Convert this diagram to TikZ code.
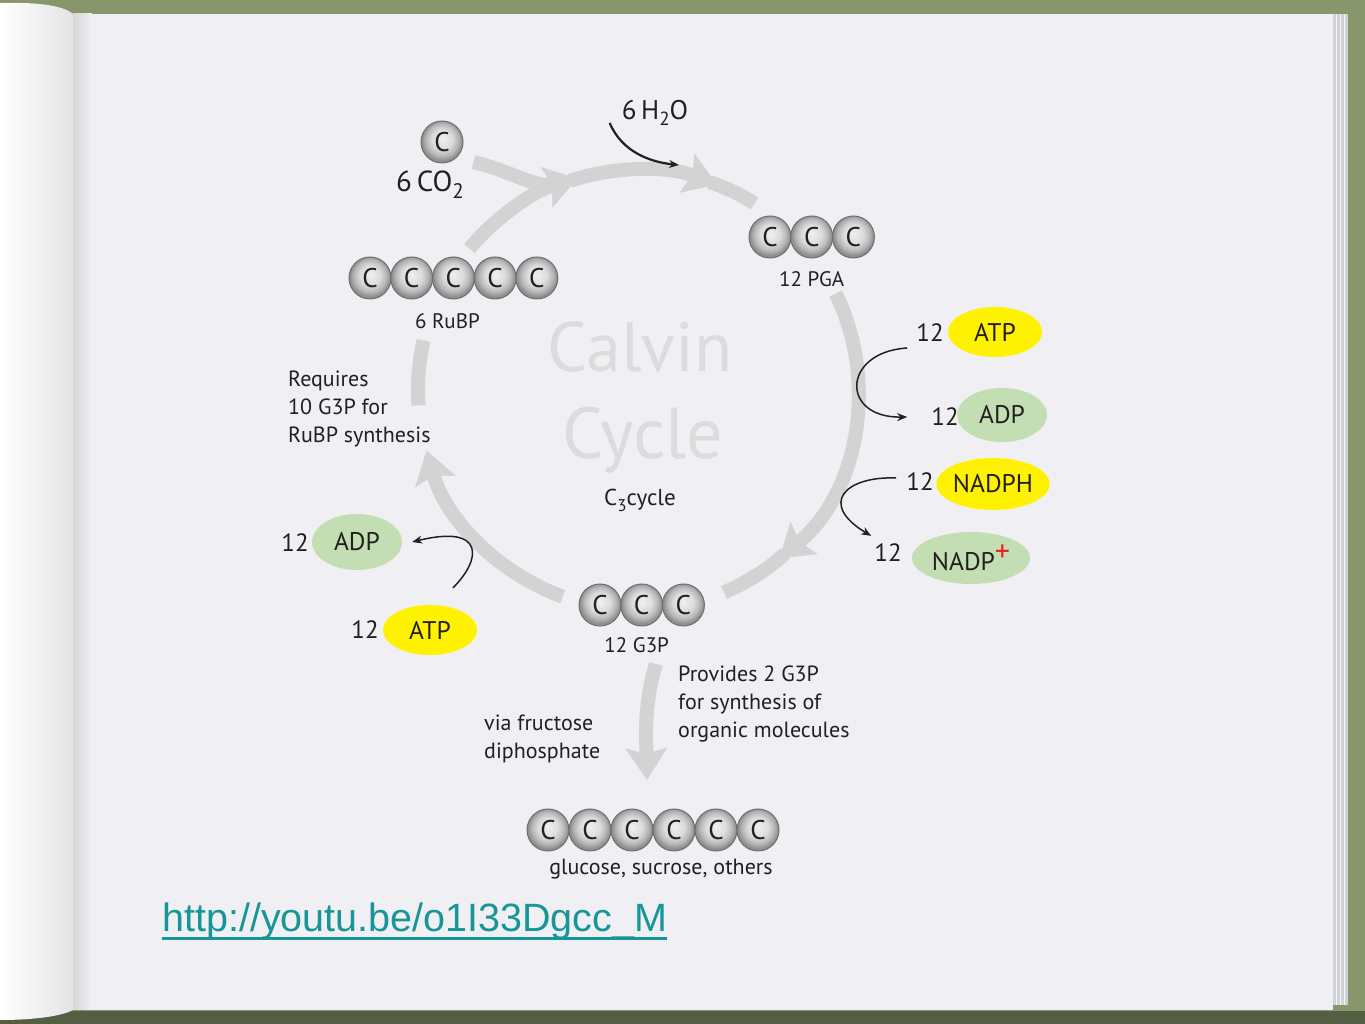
\documentclass[tikz,border=0pt]{standalone}
\usepackage{fontspec}
\setsansfont{PT Sans}
\newfontfamily\urlfont{Liberation Sans}
\usetikzlibrary{positioning,shapes.geometric,arrows.meta}

\definecolor{ink}{RGB}{35,31,32}
\definecolor{bandgray}{RGB}{211,211,211}
\definecolor{atpyel}{RGB}{255,242,0}
\definecolor{adpgrn}{RGB}{195,222,178}
\definecolor{calvingray}{RGB}{220,220,220}
\definecolor{plusred}{RGB}{237,28,36}
\definecolor{urlteal}{RGB}{22,150,150}
\definecolor{pagecol}{RGB}{240,240,244}
\definecolor{leftpage}{RGB}{228,228,230}
\definecolor{pageedge}{RGB}{208,208,216}
\definecolor{cloth}{RGB}{136,150,108}
\definecolor{clothdark}{RGB}{84,94,66}
\definecolor{ballrim}{RGB}{110,110,110}

% shading of the carbon balls
\pgfdeclareradialshading{cballshade}{\pgfpoint{0bp}{4bp}}{%
  color(0bp)=(white!94!black); color(12bp)=(white!86!black);
  color(19bp)=(white!72!black); color(24bp)=(white!56!black);
  color(50bp)=(white!56!black)}

\begin{document}
\begin{tikzpicture}[x=1pt,y=1pt]
		\newcommand{\crad}{220} % radius of the cycle
		\newcommand{\bsep}{41.7} % spacing of the carbon balls

		% set the styles
		\tikzset{
			band/.style={draw=bandgray, line width=14pt},
			bandtip/.style={-{Stealth[width=42pt,length=32pt,inset=6pt,line width=0.5pt]}},
			thinarrow/.style={-{Stealth[length=10pt,width=8pt]}, draw=ink, line width=1.5pt},
			cball/.style={
				circle,
				minimum size=42pt,
				inner sep=0pt,
				shade, shading=cballshade,
				draw=ballrim, line width=1pt,
				font=\sffamily\fontsize{27}{28}\selectfont, text=ink
				},
			lbl/.style={font=\sffamily\fontsize{21}{24}\selectfont, text=ink, inner sep=0pt},
			num/.style={font=\sffamily\fontsize{25}{28}\selectfont, text=ink, inner sep=0pt},
			note/.style={font=\sffamily\fontsize{22}{28}\selectfont, text=ink, inner sep=0pt, align=left, anchor=west},
			oval/.style={ellipse, inner sep=0pt, font=\sffamily\fontsize{25.5}{27}\selectfont, text=ink},
			atp/.style={oval, fill=atpyel},
			adp/.style={oval, fill=adpgrn}
		}

		% cloth and pages
		\fill[cloth] (0,0) rectangle (1365,1024);
		\fill[clothdark] (0,0) rectangle (1365,13);
		\fill[pageedge] (1330,19) rectangle (1348,1010);
		\foreach \x in {1336,1340,1344}
			\draw[white!80!pageedge, line width=1pt] (\x,19) -- (\x,1010);
		\fill[pagecol] (73,14) rectangle (1333,1010);
		\shade[left color=white!84!black, right color=pagecol] (73,14) rectangle (92,1010);
		\shade[left color=white, right color=leftpage]
			(0,4) -- (0,1021) .. controls (40,1022) and (64,1018) .. (73,1010)
			-- (73,14) .. controls (62,8) and (35,4) .. (0,4) -- cycle;

		% title in the middle
		\node[font=\sffamily\fontsize{70}{72}\selectfont, text=calvingray] (calvin) at (640,677) {Calvin};
		\node[font=\sffamily\fontsize{72}{74}\selectfont, text=calvingray] (cycle) at (643,584) {Cycle};
		\node[lbl, font=\sffamily\fontsize{23}{24}\selectfont] (cthree) at (640,524)
			{C\raisebox{-6pt}{\fontsize{17}{17}\selectfont 3}cycle};

		% cycle bands
		\coordinate (cyc) at (638,634);
		\draw[band, bandtip] (cyc) ++(140:\crad) arc[start angle=140, end angle=106, radius=\crad];
		\draw[band, bandtip] (cyc) ++(108:\crad) arc[start angle=108, end angle=69, radius=\crad];
		\draw[band] (cyc) ++(71:\crad) arc[start angle=71, end angle=58, radius=\crad];
		\draw[band, bandtip] (cyc) ++(26:\crad) arc[start angle=26, end angle=-50, radius=\crad];
		\draw[band] (cyc) ++(-48:\crad) arc[start angle=-48, end angle=-67, radius=\crad];
		\draw[band, bandtip] (cyc) ++(250:\crad) arc[start angle=250, end angle=196, radius=\crad];
		\draw[band] (cyc) ++(184:\crad) arc[start angle=184, end angle=167, radius=\crad];

		% carbon balls
		\node[cball] (co2) at (442,882) {C};
		\node[lbl, font=\sffamily\fontsize{29}{30}\selectfont, below=7pt of co2, xshift=-12pt] (co2lab)
			{6\,CO\raisebox{-7pt}{\fontsize{21}{21}\selectfont 2}};
		\foreach \k in {0,...,4}
			\node[cball] (rubp\k) at (370+\k*\bsep,746) {C};
		\node[lbl, below=14pt of rubp2, xshift=-6pt] (rubplab) {6 RuBP};
		\foreach \k in {0,1,2}
			\node[cball] (pga\k) at (770+\k*\bsep,787) {C};
		\node[lbl, below=13pt of pga1] (pgalab) {12 PGA};
		\foreach \k in {0,1,2}
			\node[cball] (gtp\k) at (600+\k*\bsep,419) {C};
		\node[lbl, below=11pt of gtp1, xshift=-5pt] (gtplab) {12 G3P};
		\foreach \k in {0,...,5}
			\node[cball] (glc\k) at (548+\k*42,194) {C};
		\node[lbl, font=\sffamily\fontsize{22}{24}\selectfont, below=7pt of glc2, xshift=29pt] (glclab)
			{glucose, sucrose, others};

		% carbon dioxide inflow
		\coordinate (co2join) at (563,841);
		\draw[band] ([shift={(10,-20)}]co2.east) .. controls (515,852) and (540,832) .. (co2join);

		% water
		\node[lbl, font=\sffamily\fontsize{27}{28}\selectfont] (h2o) at (655,911)
			{6\,H\raisebox{-6pt}{\fontsize{19}{19}\selectfont 2}O};
		\coordinate (h2oin) at (679,859);
		\draw[thinarrow, line width=2.2pt] ([shift={(-12,-10)}]h2o.west) .. controls (622,872) and (650,862) .. (h2oin);

		% energy carriers on the right
		\node[atp, minimum width=94pt, minimum height=50pt] (atpR) at (995,692) {ATP};
		\node[num] (natpR) at (930,691) {12};
		\node[adp, minimum width=90pt, minimum height=54pt] (adpR) at (1002,609) {ADP};
		\node[num] (nadpR) at (945,607) {12};
		\node[atp, minimum width=112pt, minimum height=52pt] (nadph) at (993,540) {NADPH};
		\node[num] (nnadph) at (920,542) {12};
		\node[adp, minimum width=118pt, minimum height=52pt] (nadp) at (971,466)
			{NADP\raisebox{9pt}{\color{plusred}\fontsize{30}{30}\selectfont +}};
		\node[num] (nnadp) at (888,471) {12};
		\draw[thinarrow] ([shift={(-9,-15)}]natpR.west) .. controls (842,672) and (840,606) .. ([xshift=-24pt]nadpR.west);
		\draw[thinarrow] ([shift={(-10,4)}]nnadph.west) .. controls (845,548) and (818,520) .. ([shift={(-3,8)}]nnadp.north west);

		% energy carriers on the left
		\node[adp, minimum width=90pt, minimum height=56pt] (adpL) at (357,482) {ADP};
		\node[num] (nadpL) at (295,481) {12};
		\node[atp, minimum width=94pt, minimum height=50pt] (atpL) at (430,394) {ATP};
		\node[num] (natpL) at (365,394) {12};
		\draw[thinarrow] ([shift={(23,17)}]atpL.north) .. controls (482,465) and (485,500) .. ([xshift=10pt]adpL.east);

		% notes
		\node[note] (rubpnote) at (288,615) {Requires\\10 G3P for\\RuBP synthesis};
		\node[note] (provnote) at (678,320) {Provides 2 G3P\\for synthesis of\\organic molecules};
		\node[note] (fdpnote) at (484,285) {via fructose\\diphosphate};

		% output arrow
		\coordinate (dnA) at (656,360);
		\coordinate (dnB) at (647,244);
		\draw[band, bandtip] (dnA) .. controls (644,320) and (646,290) .. (dnB);

		% link
		\node[anchor=base west, inner sep=0pt, font=\urlfont\fontsize{39.5}{42}\selectfont, text=urlteal] (url) at (162,92)
			{http://youtu.be/o1I33Dgcc\_M};
		\draw[urlteal, line width=3pt] ([yshift=-7pt]url.base west) -- ([yshift=-7pt]url.base east);
\end{tikzpicture}
\end{document}
